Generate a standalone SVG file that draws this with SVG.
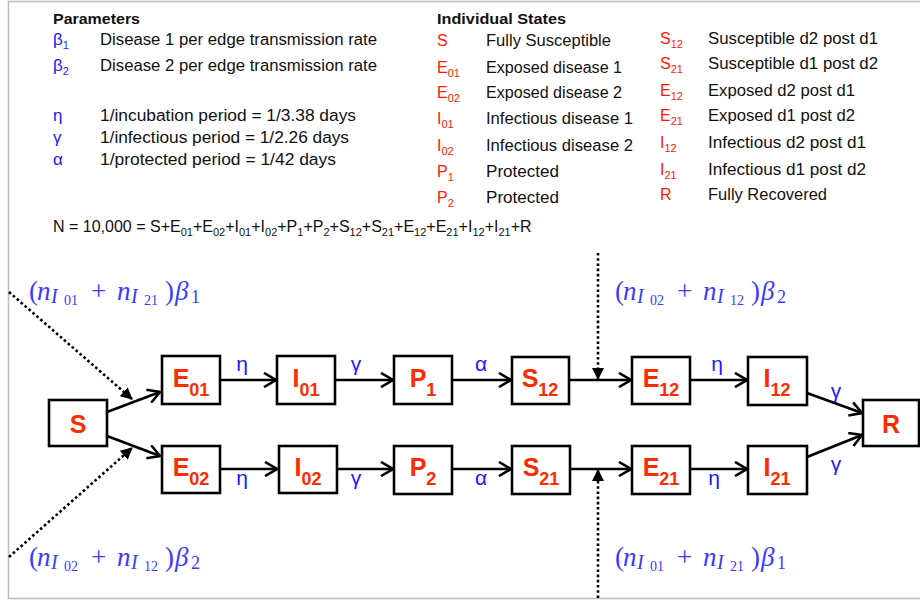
<svg xmlns="http://www.w3.org/2000/svg" width="920" height="601" viewBox="0 0 920 601">
  <style>
    .lg { font-family: "Liberation Sans", Arial, sans-serif; font-size: 16px; fill: #111; }
    .hd { font-family: "Liberation Sans", Arial, sans-serif; font-size: 15px; font-weight: bold; fill: #111; }
    .sym { font-family: "Liberation Sans", Arial, sans-serif; font-size: 16px; fill: #ff1a00; }
    .gk { font-family: "Liberation Sans", Arial, sans-serif; font-size: 17px; fill: #1a1aff; }
    .box { fill: #fff; stroke: #000; stroke-width: 2.6; }
    .nl { font-family: "Liberation Sans", Arial, sans-serif; font-weight: bold; font-size: 25px; fill: #ff2a00; text-anchor: middle; }
    .edge { fill: none; stroke: #000; stroke-width: 2.6; marker-end: url(#chev); }
    .dot { fill: none; stroke: #000; stroke-width: 2.6; stroke-dasharray: 2.6 2.6; marker-end: url(#tri); }
    .rate { font-family: "Liberation Sans", Arial, sans-serif; font-size: 21px; fill: #1a1aff; text-anchor: middle; }
    .m { font-family: "Liberation Serif", "Times New Roman", serif; fill: #3a3aff; }
    .mi { font-style: italic; }
  </style>
  <defs>
    <marker id="chev" viewBox="0 0 14 16" refX="13" refY="8" markerWidth="14" markerHeight="16" markerUnits="userSpaceOnUse" orient="auto">
      <path d="M1,1 L13,8 L1,15" fill="none" stroke="#000" stroke-width="2.6" stroke-linejoin="miter"/>
    </marker>
    <marker id="tri" viewBox="0 0 12 12" refX="11" refY="6" markerWidth="12" markerHeight="12" markerUnits="userSpaceOnUse" orient="auto">
      <path d="M0,0 L12,6 L0,12 Z" fill="#000"/>
    </marker>
  </defs>

  <!-- frame -->
  <rect x="8.5" y="1.5" width="930" height="597" fill="#fff" stroke="#bdbdbd" stroke-width="1.5"/>

  <!-- parameters legend -->
  <g id="parameters">
    <text class="hd" x="53" y="24" textLength="87" lengthAdjust="spacingAndGlyphs">Parameters</text>
    <text class="gk" x="53" y="45">β<tspan font-size="11" dy="4">1</tspan></text>
    <text class="lg" x="100" y="45" textLength="277" lengthAdjust="spacingAndGlyphs">Disease 1 per edge transmission rate</text>
    <text class="gk" x="53" y="71">β<tspan font-size="11" dy="4">2</tspan></text>
    <text class="lg" x="100" y="71" textLength="277" lengthAdjust="spacingAndGlyphs">Disease 2 per edge transmission rate</text>
    <text class="gk" x="53" y="121">η</text>
    <text class="lg" x="100" y="121" textLength="256" lengthAdjust="spacingAndGlyphs">1/incubation period = 1/3.38 days</text>
    <text class="gk" x="53" y="143">γ</text>
    <text class="lg" x="100" y="143" textLength="249" lengthAdjust="spacingAndGlyphs">1/infectious period = 1/2.26 days</text>
    <text class="gk" x="53" y="165">α</text>
    <text class="lg" x="100" y="165" textLength="236" lengthAdjust="spacingAndGlyphs">1/protected period = 1/42 days</text>
    <text class="lg" x="53" y="232" font-size="15.6">N = 10,000 = S+E<tspan font-size="11" dy="4">01</tspan><tspan dy="-4">+E</tspan><tspan font-size="11" dy="4">02</tspan><tspan dy="-4">+I</tspan><tspan font-size="11" dy="4">01</tspan><tspan dy="-4">+I</tspan><tspan font-size="11" dy="4">02</tspan><tspan dy="-4">+P</tspan><tspan font-size="11" dy="4">1</tspan><tspan dy="-4">+P</tspan><tspan font-size="11" dy="4">2</tspan><tspan dy="-4">+S</tspan><tspan font-size="11" dy="4">12</tspan><tspan dy="-4">+S</tspan><tspan font-size="11" dy="4">21</tspan><tspan dy="-4">+E</tspan><tspan font-size="11" dy="4">12</tspan><tspan dy="-4">+E</tspan><tspan font-size="11" dy="4">21</tspan><tspan dy="-4">+I</tspan><tspan font-size="11" dy="4">12</tspan><tspan dy="-4">+I</tspan><tspan font-size="11" dy="4">21</tspan><tspan dy="-4">+R</tspan></text>
  </g>

  <!-- individual states legend -->
  <g id="states">
    <text class="hd" x="437" y="24" textLength="129" lengthAdjust="spacingAndGlyphs">Individual States</text>
    <text class="sym" x="437" y="46">S</text>
    <text class="lg" x="486" y="46" textLength="125" lengthAdjust="spacingAndGlyphs">Fully Susceptible</text>
    <text class="sym" x="437" y="73">E<tspan font-size="11" dy="4">01</tspan></text>
    <text class="lg" x="486" y="73" textLength="136" lengthAdjust="spacingAndGlyphs">Exposed disease 1</text>
    <text class="sym" x="437" y="98">E<tspan font-size="11" dy="4">02</tspan></text>
    <text class="lg" x="486" y="98" textLength="136" lengthAdjust="spacingAndGlyphs">Exposed disease 2</text>
    <text class="sym" x="437" y="124">I<tspan font-size="11" dy="4">01</tspan></text>
    <text class="lg" x="486" y="124" textLength="147" lengthAdjust="spacingAndGlyphs">Infectious disease 1</text>
    <text class="sym" x="437" y="151">I<tspan font-size="11" dy="4">02</tspan></text>
    <text class="lg" x="486" y="151" textLength="147" lengthAdjust="spacingAndGlyphs">Infectious disease 2</text>
    <text class="sym" x="437" y="177">P<tspan font-size="11" dy="4">1</tspan></text>
    <text class="lg" x="486" y="177" textLength="73" lengthAdjust="spacingAndGlyphs">Protected</text>
    <text class="sym" x="437" y="203">P<tspan font-size="11" dy="4">2</tspan></text>
    <text class="lg" x="486" y="203" textLength="73" lengthAdjust="spacingAndGlyphs">Protected</text>

    <text class="sym" x="660" y="44">S<tspan font-size="11" dy="4">12</tspan></text>
    <text class="lg" x="708" y="44" textLength="170" lengthAdjust="spacingAndGlyphs">Susceptible d2 post d1</text>
    <text class="sym" x="660" y="69">S<tspan font-size="11" dy="4">21</tspan></text>
    <text class="lg" x="708" y="69" textLength="170" lengthAdjust="spacingAndGlyphs">Susceptible d1 post d2</text>
    <text class="sym" x="660" y="96">E<tspan font-size="11" dy="4">12</tspan></text>
    <text class="lg" x="708" y="96" textLength="147" lengthAdjust="spacingAndGlyphs">Exposed d2 post d1</text>
    <text class="sym" x="660" y="121">E<tspan font-size="11" dy="4">21</tspan></text>
    <text class="lg" x="708" y="121" textLength="147" lengthAdjust="spacingAndGlyphs">Exposed d1 post d2</text>
    <text class="sym" x="660" y="148">I<tspan font-size="11" dy="4">12</tspan></text>
    <text class="lg" x="708" y="148" textLength="158" lengthAdjust="spacingAndGlyphs">Infectious d2 post d1</text>
    <text class="sym" x="660" y="175">I<tspan font-size="11" dy="4">21</tspan></text>
    <text class="lg" x="708" y="175" textLength="158" lengthAdjust="spacingAndGlyphs">Infectious d1 post d2</text>
    <text class="sym" x="660" y="200">R</text>
    <text class="lg" x="708" y="200" textLength="119" lengthAdjust="spacingAndGlyphs">Fully Recovered</text>
  </g>

  <!-- connectors -->
  <g id="connectors">
    <line class="edge" x1="107" y1="412" x2="160" y2="392"/>
    <line class="edge" x1="107" y1="436" x2="160" y2="456"/>
    <line class="edge" x1="220" y1="380" x2="276" y2="380"/>
    <line class="edge" x1="335" y1="380" x2="393" y2="380"/>
    <line class="edge" x1="452" y1="380" x2="511" y2="380"/>
    <line class="edge" x1="569" y1="380" x2="631" y2="380"/>
    <line class="edge" x1="690" y1="380" x2="747" y2="380"/>
    <line class="edge" x1="807" y1="393" x2="862" y2="413"/>
    <line class="edge" x1="220" y1="469" x2="277" y2="469"/>
    <line class="edge" x1="337" y1="469" x2="393" y2="469"/>
    <line class="edge" x1="452" y1="469" x2="511" y2="469"/>
    <line class="edge" x1="570" y1="469" x2="631" y2="469"/>
    <line class="edge" x1="690" y1="469" x2="747" y2="469"/>
    <line class="edge" x1="807" y1="457" x2="862" y2="435"/>

    <line class="dot" x1="9" y1="292" x2="132" y2="399"/>
    <line class="dot" x1="9" y1="557" x2="132" y2="448"/>
    <line class="dot" x1="598" y1="253" x2="598" y2="379"/>
    <line class="dot" x1="598" y1="598" x2="598" y2="470"/>

    <text class="rate" x="242" y="371">η</text>
    <text class="rate" x="356" y="371">γ</text>
    <text class="rate" x="481" y="371">α</text>
    <text class="rate" x="717" y="371">η</text>
    <text class="rate" x="836" y="398">γ</text>
    <text class="rate" x="242" y="485">η</text>
    <text class="rate" x="356" y="485">γ</text>
    <text class="rate" x="481" y="485">α</text>
    <text class="rate" x="714" y="485">η</text>
    <text class="rate" x="836" y="471">γ</text>

    <!-- force-of-infection labels -->
    <g transform="translate(29,300)">
      <text class="m" font-size="27" x="0" y="0">(</text>
      <text class="m mi" font-size="27" x="8" y="0">n</text>
      <text class="m mi" font-size="20" x="22" y="3">I</text>
      <text class="m" font-size="14" x="35" y="5">01</text>
      <text class="m" font-size="27" x="62" y="0">+</text>
      <text class="m mi" font-size="27" x="88" y="0">n</text>
      <text class="m mi" font-size="20" x="102" y="3">I</text>
      <text class="m" font-size="14" x="115" y="5">21</text>
      <text class="m" font-size="27" x="136" y="0">)</text>
      <text class="m mi" font-size="27" x="146" y="0">β</text>
      <text class="m" font-size="18" x="162" y="3">1</text>
    </g>
    <g transform="translate(615,300)">
      <text class="m" font-size="27" x="0" y="0">(</text>
      <text class="m mi" font-size="27" x="8" y="0">n</text>
      <text class="m mi" font-size="20" x="22" y="3">I</text>
      <text class="m" font-size="14" x="35" y="5">02</text>
      <text class="m" font-size="27" x="62" y="0">+</text>
      <text class="m mi" font-size="27" x="88" y="0">n</text>
      <text class="m mi" font-size="20" x="102" y="3">I</text>
      <text class="m" font-size="14" x="115" y="5">12</text>
      <text class="m" font-size="27" x="136" y="0">)</text>
      <text class="m mi" font-size="27" x="146" y="0">β</text>
      <text class="m" font-size="18" x="162" y="3">2</text>
    </g>
    <g transform="translate(29,566)">
      <text class="m" font-size="27" x="0" y="0">(</text>
      <text class="m mi" font-size="27" x="8" y="0">n</text>
      <text class="m mi" font-size="20" x="22" y="3">I</text>
      <text class="m" font-size="14" x="35" y="5">02</text>
      <text class="m" font-size="27" x="62" y="0">+</text>
      <text class="m mi" font-size="27" x="88" y="0">n</text>
      <text class="m mi" font-size="20" x="102" y="3">I</text>
      <text class="m" font-size="14" x="115" y="5">12</text>
      <text class="m" font-size="27" x="136" y="0">)</text>
      <text class="m mi" font-size="27" x="146" y="0">β</text>
      <text class="m" font-size="18" x="162" y="3">2</text>
    </g>
    <g transform="translate(615,566)">
      <text class="m" font-size="27" x="0" y="0">(</text>
      <text class="m mi" font-size="27" x="8" y="0">n</text>
      <text class="m mi" font-size="20" x="22" y="3">I</text>
      <text class="m" font-size="14" x="35" y="5">01</text>
      <text class="m" font-size="27" x="62" y="0">+</text>
      <text class="m mi" font-size="27" x="88" y="0">n</text>
      <text class="m mi" font-size="20" x="102" y="3">I</text>
      <text class="m" font-size="14" x="115" y="5">21</text>
      <text class="m" font-size="27" x="136" y="0">)</text>
      <text class="m mi" font-size="27" x="146" y="0">β</text>
      <text class="m" font-size="18" x="162" y="3">1</text>
    </g>
  </g>

  <!-- compartments -->
  <g id="node-S"><rect class="box" x="49" y="400" width="58" height="46"/><text class="nl" x="78" y="433">S</text></g>
  <g id="node-E01"><rect class="box" x="162" y="356" width="58" height="48"/><text class="nl" x="191" y="387">E<tspan font-size="18" dy="9">01</tspan></text></g>
  <g id="node-I01"><rect class="box" x="277" y="356" width="58" height="48"/><text class="nl" x="306" y="387">I<tspan font-size="18" dy="9">01</tspan></text></g>
  <g id="node-P1"><rect class="box" x="394" y="356" width="58" height="48"/><text class="nl" x="423" y="387">P<tspan font-size="18" dy="9">1</tspan></text></g>
  <g id="node-S12"><rect class="box" x="512" y="357" width="57" height="47"/><text class="nl" x="540" y="387">S<tspan font-size="18" dy="9">12</tspan></text></g>
  <g id="node-E12"><rect class="box" x="632" y="357" width="58" height="47"/><text class="nl" x="661" y="387">E<tspan font-size="18" dy="9">12</tspan></text></g>
  <g id="node-I12"><rect class="box" x="748" y="357" width="59" height="48"/><text class="nl" x="777" y="387">I<tspan font-size="18" dy="9">12</tspan></text></g>
  <g id="node-R"><rect class="box" x="863" y="400" width="56" height="46"/><text class="nl" x="891" y="433">R</text></g>
  <g id="node-E02"><rect class="box" x="162" y="446" width="58" height="47"/><text class="nl" x="191" y="476">E<tspan font-size="18" dy="9">02</tspan></text></g>
  <g id="node-I02"><rect class="box" x="279" y="446" width="58" height="47"/><text class="nl" x="308" y="476">I<tspan font-size="18" dy="9">02</tspan></text></g>
  <g id="node-P2"><rect class="box" x="394" y="446" width="58" height="48"/><text class="nl" x="423" y="476">P<tspan font-size="18" dy="9">2</tspan></text></g>
  <g id="node-S21"><rect class="box" x="512" y="446" width="58" height="48"/><text class="nl" x="541" y="476">S<tspan font-size="18" dy="9">21</tspan></text></g>
  <g id="node-E21"><rect class="box" x="632" y="446" width="58" height="48"/><text class="nl" x="661" y="476">E<tspan font-size="18" dy="9">21</tspan></text></g>
  <g id="node-I21"><rect class="box" x="748" y="446" width="59" height="48"/><text class="nl" x="777" y="476">I<tspan font-size="18" dy="9">21</tspan></text></g>
</svg>
